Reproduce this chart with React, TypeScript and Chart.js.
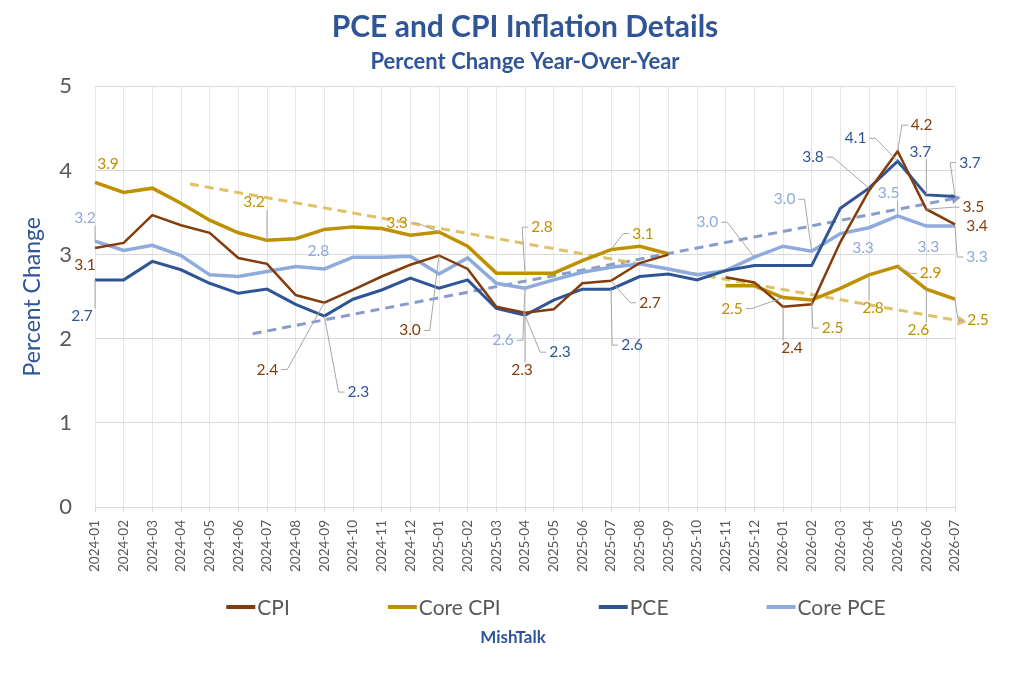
import React, { useEffect, useRef } from "react";
import { Chart, registerables } from "chart.js";

Chart.register(...registerables);

// ---------- data ----------
const months = [
  "2024-01", "2024-02", "2024-03", "2024-04", "2024-05", "2024-06", "2024-07", "2024-08",
  "2024-09", "2024-10", "2024-11", "2024-12", "2025-01", "2025-02", "2025-03", "2025-04",
  "2025-05", "2025-06", "2025-07", "2025-08", "2025-09", "2025-10", "2025-11", "2025-12",
  "2026-01", "2026-02", "2026-03", "2026-04", "2026-05", "2026-06", "2026-07",
];

const cpi = [
  3.08, 3.14, 3.47, 3.35, 3.26, 2.96, 2.89, 2.52, 2.43, 2.58,
  2.74, 2.88, 2.99, 2.83, 2.38, 2.31, 2.35, 2.66, 2.69, 2.90,
  3.00, null, 2.73, 2.67, 2.38, 2.41, 3.15, 3.76, 4.23, 3.54, 3.36,
];

const coreCpi = [
  3.86, 3.74, 3.79, 3.61, 3.41, 3.26, 3.17, 3.19, 3.30, 3.33,
  3.31, 3.23, 3.27, 3.10, 2.78, 2.78, 2.78, 2.93, 3.06, 3.10,
  3.01, null, 2.63, 2.63, 2.49, 2.46, 2.60, 2.76, 2.86, 2.59, 2.47,
];

const pce = [
  2.70, 2.70, 2.92, 2.82, 2.66, 2.54, 2.59, 2.41, 2.27, 2.47,
  2.58, 2.72, 2.60, 2.70, 2.36, 2.28, 2.46, 2.59, 2.59, 2.74,
  2.77, 2.70, 2.81, 2.87, 2.87, 2.87, 3.55, 3.79, 4.11, 3.71, 3.69,
];

const corePce = [
  3.16, 3.05, 3.11, 2.99, 2.76, 2.74, 2.80, 2.86, 2.83, 2.97,
  2.97, 2.98, 2.77, 2.96, 2.66, 2.60, 2.70, 2.79, 2.85, 2.89,
  2.83, 2.76, 2.81, 2.97, 3.10, 3.04, 3.25, 3.32, 3.46, 3.34, 3.34,
];

// trend arrows (x = month index position, y = percent)
const coreCpiTrendX = [3.31, 30.2];
const coreCpiTrendY = [3.84, 2.21];
const pceTrendX = [5.5, 30.0];
const pceTrendY = [2.06, 3.67];

const yTicks = [0, 1, 2, 3, 4, 5];

// which points carry a value label
const cpiLabelAt = [0, 8, 12, 15, 18, 24, 28, 29, 30];
const coreCpiLabelAt = [0, 6, 12, 15, 18, 24, 25, 27, 28, 29, 30];
const pceLabelAt = [0, 8, 15, 18, 27, 28, 29, 30];
const corePceLabelAt = [0, 8, 15, 23, 25, 27, 28, 29, 30];

// ---------- styles ----------
const FONT = "Lato, 'Noto Sans', sans-serif";
const C_CPI = "#843C0C";
const C_CORECPI = "#BF9000";
const C_PCE = "#2F5597";
const C_COREPCE = "#8FAADC";
const C_TREND_GOLD = "rgba(222,190,95,0.95)";
const C_TREND_BLUE = "rgba(132,151,200,0.95)";
const TITLE_BLUE = "#2F5597";
const GREY_TEXT = "#595959";

// label offsets in px from the data point (layout only)
const cpiLabelOff = [[-10, 17], [-57, 67], [-29, 75], [-3, 57], [39, 22], [9, 41], [24, -26], [47, -2], [22, 2]];
const coreCpiLabelOff = [[13, -18], [-13, -38], [-42, -9], [17, -46], [32, -16], [-51, 11], [21, 28], [4, 33], [33, 7], [-8, 41], [23, 21]];
const pceLabelOff = [[-13, 36], [34, 76], [35, 37], [21, 56], [-56, -31], [-42, -23], [-6, -43], [15, -34]];
const corePceLabelOff = [[-10, -23], [-6, -18], [-22, 52], [-47, -35], [-27, -52], [-6, 20], [-9, -23], [2, 21], [22, 31]];

const labelGroups = [
  { ds: 0, at: cpiLabelAt, off: cpiLabelOff, color: C_CPI },
  { ds: 1, at: coreCpiLabelAt, off: coreCpiLabelOff, color: C_CORECPI },
  { ds: 2, at: pceLabelAt, off: pceLabelOff, color: C_PCE },
  { ds: 3, at: corePceLabelAt, off: corePceLabelOff, color: C_COREPCE },
];

const valueLabelPlugin = {
  id: "valueLabels",
  afterDatasetsDraw(chart: any) {
    const ctx = chart.ctx as CanvasRenderingContext2D;
    ctx.save();
    ctx.font = `15.5px ${FONT}`;
    ctx.textAlign = "center";
    ctx.textBaseline = "middle";
    for (const g of labelGroups) {
      const meta = chart.getDatasetMeta(g.ds);
      const data = chart.data.datasets[g.ds].data as (number | null)[];
      g.at.forEach((idx, k) => {
        const v = data[idx];
        const pt = meta.data[idx];
        if (v == null || !pt) return;
        const px = pt.x, py = pt.y;
        const [dx, dy] = g.off[k] || [0, -14];
        const lx = px + dx, ly = py + dy;
        const text = v.toFixed(1);
        const w = ctx.measureText(text).width;
        const h = 15;
        const dist = Math.hypot(dx, dy);
        if (dist > 24) {
          const left = lx - w / 2 - 3, right = lx + w / 2 + 3;
          const top = ly - h / 2, bottom = ly + h / 2;
          let sx: number, sy: number;
          if (px < left) { sx = left; sy = ly; }
          else if (px > right) { sx = right; sy = ly; }
          else { sx = px; sy = py < top ? top : bottom; }
          ctx.strokeStyle = "#A6A6A6";
          ctx.lineWidth = 1;
          ctx.beginPath();
          if (sy === ly) {
            const stub = px < left ? -6 : 6;
            ctx.moveTo(sx, sy);
            ctx.lineTo(sx + stub, sy);
            ctx.lineTo(px, py);
          } else {
            ctx.moveTo(sx, sy);
            ctx.lineTo(px, py);
          }
          ctx.stroke();
        }
        ctx.fillStyle = g.color;
        ctx.fillText(text, lx, ly);
      });
    }
    ctx.restore();
  },
};

const legendPlugin = {
  id: "customLegend",
  afterDraw(chart: any) {
    const ctx = chart.ctx as CanvasRenderingContext2D;
    const items = chart.data.datasets.slice(0, 4);
    ctx.save();
    ctx.font = `21px ${FONT}`;
    ctx.textBaseline = "middle";
    ctx.textAlign = "left";
    const sw = 29, gapText = 2, gapItem = 98;
    const widths = items.map((d: any) => sw + gapText + ctx.measureText(d.label).width);
    const total = widths.reduce((a: number, b: number) => a + b, 0) + gapItem * (items.length - 1);
    const centerX = 556;
    const y = 607;
    let x = centerX - total / 2;
    items.forEach((d: any, i: number) => {
      ctx.strokeStyle = d.borderColor;
      ctx.lineWidth = 4;
      ctx.beginPath();
      ctx.moveTo(x, y);
      ctx.lineTo(x + sw, y);
      ctx.stroke();
      ctx.fillStyle = GREY_TEXT;
      ctx.fillText(d.label, x + sw + gapText, y + 1);
      x += widths[i] + gapItem;
    });
    ctx.font = `bold 17px ${FONT}`;
    ctx.textAlign = "center";
    ctx.fillStyle = TITLE_BLUE;
    ctx.fillText("MishTalk", 513, 638);
    ctx.restore();
  },
};

function arrowRotation(c: any) {
  const d = c.dataset.data as { x: number; y: number }[];
  const xs = c.chart.scales.xt, ys = c.chart.scales.y;
  if (!xs || !ys) return 0;
  const dx = xs.getPixelForValue(d[1].x) - xs.getPixelForValue(d[0].x);
  const dy = ys.getPixelForValue(d[1].y) - ys.getPixelForValue(d[0].y);
  return (Math.atan2(dy, dx) * 180) / Math.PI + 90;
}

export default function App() {
  const ref = useRef<HTMLCanvasElement | null>(null);

  useEffect(() => {
    if (!ref.current) return;
    const lineDs = (label: string, data: (number | null)[], color: string, width: number) => ({
      type: "line" as const,
      label,
      data,
      borderColor: color,
      backgroundColor: color,
      borderWidth: width,
      pointRadius: 0,
      pointHoverRadius: 0,
      tension: 0,
      spanGaps: false,
      xAxisID: "x",
      yAxisID: "y",
    });
    const trendDs = (label: string, xs: number[], ys: number[], color: string) => ({
      type: "line" as const,
      label,
      data: xs.map((x, i) => ({ x, y: ys[i] })),
      borderColor: color,
      backgroundColor: color,
      borderWidth: 3,
      borderDash: [9, 6],
      pointRadius: [0, 6],
      pointHoverRadius: [0, 6],
      pointStyle: "triangle",
      pointBorderWidth: 0,
      pointRotation: arrowRotation,
      tension: 0,
      clip: false,
      xAxisID: "xt",
      yAxisID: "y",
    });

    const chart = new Chart(ref.current, {
      type: "line",
      data: {
        labels: months,
        datasets: [
          lineDs("CPI", cpi, C_CPI, 2.5),
          lineDs("Core CPI", coreCpi, C_CORECPI, 3.5),
          lineDs("PCE", pce, C_PCE, 3),
          lineDs("Core PCE", corePce, C_COREPCE, 3.5),
          trendDs("Core CPI trend", coreCpiTrendX, coreCpiTrendY, C_TREND_GOLD) as any,
          trendDs("PCE trend", pceTrendX, pceTrendY, C_TREND_BLUE) as any,
        ],
      },
      options: {
        responsive: false,
        animation: false,
        events: [],
        layout: { padding: { left: 0, right: 69, top: 0, bottom: 100 } },
        scales: {
          x: {
            type: "category",
            offset: false,
            grid: { color: "#E6E6E6", lineWidth: 1, drawTicks: true, tickLength: 5, tickColor: "#D9D9D9" },
            border: { color: "#D9D9D9" },
            ticks: {
              autoSkip: false,
              maxRotation: 90,
              minRotation: 90,
              padding: 8,
              color: GREY_TEXT,
              font: { family: FONT, size: 13.5 },
            },
            afterFit(scale: any) {
              scale.height = 67;
            },
          },
          xt: {
            type: "linear",
            display: false,
            min: 0,
            max: 30,
          },
          y: {
            type: "linear",
            min: 0,
            max: 5,
            afterBuildTicks(scale: any) {
              scale.ticks = yTicks.map((v) => ({ value: v }));
            },
            grid: { color: "#D9D9D9", drawTicks: false },
            border: { display: false },
            ticks: {
              padding: 23,
              color: GREY_TEXT,
              font: { family: FONT, size: 22 },
            },
            title: {
              display: true,
              text: "Percent Change",
              color: TITLE_BLUE,
              font: { family: FONT, size: 23 },
              padding: { top: 19, bottom: 0 },
            },
            afterFit(scale: any) {
              scale.width = 95;
            },
          },
        },
        plugins: {
          legend: { display: false },
          tooltip: { enabled: false },
          title: {
            display: true,
            fullSize: false,
            text: "PCE and CPI Inflation Details",
            color: TITLE_BLUE,
            font: { family: FONT, size: 30, weight: "bold" },
            padding: { top: 9, bottom: 0 },
          },
          subtitle: {
            display: true,
            fullSize: false,
            text: "Percent Change Year-Over-Year",
            color: TITLE_BLUE,
            font: { family: FONT, size: 22, weight: "bold" },
            padding: { top: 4, bottom: 11 },
          },
        },
      } as any,
      plugins: [valueLabelPlugin, legendPlugin],
    });
    return () => chart.destroy();
  }, []);

  return (
    <div style={{ position: "absolute", left: 0, top: 0, width: 1024, height: 674, background: "#fff" }}>
      <canvas ref={ref} width={1024} height={674} style={{ width: 1024, height: 674, display: "block" }} />
    </div>
  );
}
